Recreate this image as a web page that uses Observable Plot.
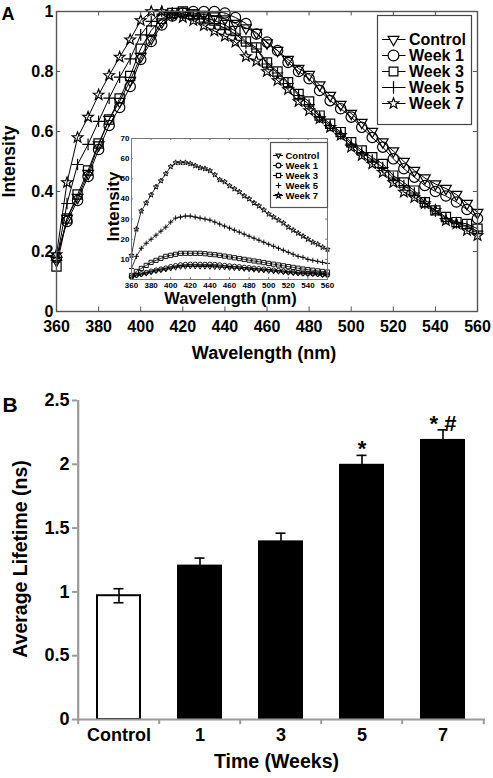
<!DOCTYPE html>
<html><head><meta charset="utf-8">
<script src="https://cdn.jsdelivr.net/npm/d3@7"></script>
<script src="https://cdn.jsdelivr.net/npm/@observablehq/plot@0.6"></script>
<style>
body{margin:0;background:#fff;}
#wrap{position:relative;width:493px;height:778px;overflow:hidden;background:#fff;}
</style></head><body><div id="wrap"></div>
<script>
// ---------------- DATA ----------------
const wavelengths = [360,365,370,375,380,385,390,395,400,405,410,415,420,425,430,435,440,445,450,455,460,465,470,475,480,485,490,495,500,505,510,515,520,525,530,535,540,545,550,555,560];
const seriesNames = ["Control","Week 1","Week 3","Week 5","Week 7"];

// Normalized intensity (panel A main)
const normControl = [0.17,0.31,0.38,0.46,0.555,0.64,0.70,0.77,0.85,0.91,0.965,0.99,1.0,0.995,0.99,0.985,0.975,0.96,0.945,0.93,0.895,0.87,0.84,0.81,0.79,0.755,0.72,0.69,0.66,0.63,0.60,0.565,0.535,0.50,0.47,0.445,0.425,0.41,0.39,0.36,0.33];
const normWeek1 = [0.18,0.30,0.37,0.45,0.54,0.62,0.68,0.75,0.84,0.90,0.955,0.985,0.995,1.0,1.0,1.0,0.995,0.98,0.96,0.925,0.898,0.87,0.83,0.80,0.776,0.737,0.703,0.676,0.648,0.614,0.58,0.548,0.509,0.476,0.448,0.42,0.40,0.385,0.365,0.34,0.31];
const normWeek3 = [0.15,0.31,0.39,0.47,0.56,0.64,0.71,0.785,0.876,0.937,0.976,0.995,1.0,0.99,0.98,0.97,0.955,0.935,0.90,0.88,0.83,0.80,0.764,0.725,0.70,0.653,0.626,0.598,0.564,0.537,0.514,0.492,0.453,0.43,0.403,0.364,0.337,0.315,0.298,0.292,0.276];
const normWeek5 = [0.17,0.36,0.49,0.557,0.634,0.711,0.781,0.842,0.922,0.967,1.0,0.995,0.99,0.985,0.975,0.96,0.945,0.925,0.895,0.875,0.825,0.795,0.76,0.72,0.69,0.648,0.62,0.592,0.558,0.53,0.505,0.48,0.445,0.42,0.395,0.36,0.335,0.31,0.295,0.285,0.268];
const normWeek7 = [0.19,0.43,0.58,0.648,0.722,0.787,0.848,0.906,0.97,1.0,1.0,0.99,0.98,0.97,0.953,0.935,0.918,0.898,0.85,0.835,0.80,0.77,0.74,0.70,0.67,0.643,0.614,0.587,0.548,0.52,0.492,0.464,0.43,0.398,0.38,0.36,0.337,0.303,0.292,0.27,0.253];

// Raw intensity (inset)
const rawControl = [1.1,2.0,2.5,3.0,3.6,4.2,4.6,5.0,5.5,5.9,6.3,6.4,6.5,6.5,6.4,6.4,6.3,6.2,6.1,6.0,5.8,5.6,5.5,5.3,5.1,4.9,4.6,4.5,4.3,4.1,3.9,3.6,3.4,3.2,3.0,2.9,2.7,2.7,2.5,2.3,2.1];
const rawWeek1 = [1.2,2.2,2.8,3.4,4.1,4.6,5.1,5.6,6.3,6.8,7.2,7.4,7.5,7.5,7.5,7.5,7.5,7.4,7.2,6.9,6.7,6.5,6.3,6.0,5.8,5.5,5.3,5.1,4.9,4.6,4.4,4.1,3.8,3.6,3.4,3.1,3.0,2.9,2.8,2.5,2.3];
const rawWeek3 = [2.0,4.0,5.5,7.0,8.5,9.5,10.5,11.5,12.0,12.5,13.0,13.0,13.0,13.0,13.0,12.8,12.5,12.3,12.0,11.6,11.2,10.8,10.4,10.0,9.6,9.2,8.8,8.4,8.0,7.6,7.2,6.8,6.4,6.0,5.6,5.2,4.9,4.6,4.3,4.0,3.7];
const rawWeek5 = [5.5,11.5,15.5,18,20,22,24,26,28.5,30.5,31,31.5,31.5,31,30.5,30,29.5,28.5,27.5,26.5,25.5,24.5,23.5,22.5,21.5,20.5,19.5,18.5,17.5,16.5,15.5,14.5,13.5,12.5,11.5,11,10,9.5,9,8.5,8];
const rawWeek7 = [12,25,34,38,42,46,49,52.5,56,58,58,58,57.5,56.5,55.5,55,54,52,49.5,48.5,46.5,45,43.5,41.5,40,38,36.5,34.5,32.5,31,29.5,28,26,24.5,23,21.5,20,18.5,17.5,16,15];

const xTicksA = [360,380,400,420,440,460,480,500,520,540,560];
const yTicksA = [0,0.2,0.4,0.6,0.8,1];
const yTicksInset = [10,20,30,40,50,60,70];

// Panel B
const categories = ["Control","1","3","5","7"];
const lifetimes = [0.97,1.21,1.40,2.00,2.195];
const lifetimeErr = [0.055,0.055,0.06,0.07,0.075];
const significance = ["","","","*","* #"];
const yTicksB = [0,0.5,1,1.5,2,2.5];

// ---------------- SYMBOLS ----------------
const triangleDown = {draw(c, size){const R = Math.sqrt(size/Math.PI); const s = R*Math.sqrt(3)/2; c.moveTo(0,R); c.lineTo(-s,-R/2); c.lineTo(s,-R/2); c.closePath();}};
const circleSym = {draw(c, size){const R = Math.sqrt(size/Math.PI); c.moveTo(R,0); c.arc(0,0,R,0,2*Math.PI);}};
const squareSym = {draw(c, size){const R = Math.sqrt(size/Math.PI); c.rect(-R,-R,2*R,2*R);}};
const plusSym = {draw(c, size){const R = Math.sqrt(size/Math.PI); c.moveTo(-R,0); c.lineTo(R,0); c.moveTo(0,-R); c.lineTo(0,R);}};
const starSym = {draw(c, size){const R = Math.sqrt(size/Math.PI); const r = R*0.42; for(let i=0;i<10;i++){const a = -Math.PI/2 + i*Math.PI/5; const rr = i%2 ? r : R; const x = rr*Math.cos(a), y = rr*Math.sin(a); if(i===0) c.moveTo(x,y); else c.lineTo(x,y);} c.closePath();}};
const symbols = [triangleDown, circleSym, squareSym, plusSym, starSym];
const mainR = [6.2, 5.2, 4.6, 5.8, 5.6];
const insetR = [2.6, 2.3, 2.1, 2.6, 2.8];
const legendR = [6.2, 5.4, 4.4, 6.2, 5.6];

const normSeries = [normControl, normWeek1, normWeek3, normWeek5, normWeek7];
const rawSeries = [rawControl, rawWeek1, rawWeek3, rawWeek5, rawWeek7];

const FONT = "'Liberation Sans', Arial, Helvetica, sans-serif";
const wrap = document.getElementById("wrap");
function place(svg, left, top){svg.style.position="absolute"; svg.style.left=left+"px"; svg.style.top=top+"px"; svg.style.maxWidth="none"; wrap.appendChild(svg);}
const baseStyle = (fs) => ({fontFamily: FONT, fontWeight: "bold", fontSize: fs, background: "transparent", overflow: "visible"});
const centered = {textAnchor: "middle", lineAnchor: "middle"};

// ---------------- PANEL A MAIN ----------------
const mainMarks = [];
seriesNames.forEach((name, k) => {
  const rows = wavelengths.map((w, i) => ({w, v: normSeries[k][i]}));
  mainMarks.push(Plot.line(rows, {x: "w", y: "v", stroke: "black", strokeWidth: 1}));
  mainMarks.push(Plot.dot(rows, {x: "w", y: "v", symbol: symbols[k], r: mainR[k], stroke: "black", strokeWidth: 1.2, fill: "none"}));
});
const mainPlot = Plot.plot({
  width: 493, height: 372, marginLeft: 56, marginRight: 16, marginTop: 11, marginBottom: 61,
  x: {domain: [360, 560], label: null},
  y: {domain: [0, 1], label: null},
  style: baseStyle("16px"),
  marks: [
    ...mainMarks,
    Plot.ruleX(xTicksA, {x: d => d, y1: 0, y2: 0.015, stroke: "#555"}),
    Plot.ruleX(xTicksA, {x: d => d, y1: 1, y2: 0.985, stroke: "#555"}),
    Plot.ruleY(yTicksA, {y: d => d, x1: 360, x2: 362, stroke: "#555"}),
    Plot.ruleY(yTicksA, {y: d => d, x1: 560, x2: 558, stroke: "#555"}),
    Plot.frame({stroke: "#555", strokeWidth: 1.4}),
    Plot.axisX({ticks: xTicksA, tickSize: 0, tickPadding: 9, label: null, tickFormat: d => String(d)}),
    Plot.axisY({ticks: yTicksA, tickSize: 0, tickPadding: 3, label: null, tickFormat: d => String(d)}),
    Plot.text(["Wavelength (nm)"], {text: d => d, frameAnchor: "bottom", ...centered, dx: -3, dy: 42, fontSize: 18}),
    Plot.text(["Intensity"], {text: d => d, frameAnchor: "left", ...centered, rotate: -90, dx: -47, fontSize: 17.5}),
    Plot.text(["A"], {text: d => d, frameAnchor: "top-left", textAnchor: "start", lineAnchor: "middle", dx: -55, dy: 3, fontSize: 18})
  ]
});
place(mainPlot, 0, 0);

// ---------------- INSET ----------------
const insetMarks = [];
seriesNames.forEach((name, k) => {
  const rows = wavelengths.map((w, i) => ({w, v: rawSeries[k][i]}));
  insetMarks.push(Plot.line(rows, {x: "w", y: "v", stroke: "black", strokeWidth: 0.8}));
  insetMarks.push(Plot.dot(rows, {x: "w", y: "v", symbol: symbols[k], r: insetR[k], stroke: "black", strokeWidth: 0.9, fill: "none"}));
});
const insetPlot = Plot.plot({
  width: 235, height: 174, marginLeft: 31, marginRight: 8, marginTop: 6, marginBottom: 27,
  x: {domain: [360, 560], label: null},
  y: {domain: [0, 70], label: null},
  style: baseStyle("8px"),
  marks: [
    ...insetMarks,
    Plot.ruleX(xTicksA, {x: d => d, y1: 0, y2: 1, stroke: "#777"}),
    Plot.ruleX(xTicksA, {x: d => d, y1: 70, y2: 69, stroke: "#777"}),
    Plot.ruleY(yTicksInset, {y: d => d, x1: 360, x2: 362, stroke: "#777"}),
    Plot.ruleY(yTicksInset, {y: d => d, x1: 560, x2: 558, stroke: "#777"}),
    Plot.frame({stroke: "#777", strokeWidth: 1}),
    Plot.axisX({ticks: xTicksA, tickSize: 0, tickPadding: 3, label: null, tickFormat: d => String(d)}),
    Plot.axisY({ticks: yTicksInset, tickSize: 0, tickPadding: 2, label: null, tickFormat: d => String(d)}),
    Plot.text(["Wavelength (nm)"], {text: d => d, frameAnchor: "bottom", ...centered, dy: 19.5, dx: 1, fontSize: 16.5}),
    Plot.text(["Intensity"], {text: d => d, frameAnchor: "left", ...centered, rotate: -90, dx: -18, dy: -2.5, fontSize: 17})
  ]
});
place(insetPlot, 100, 132);

// ---------------- LEGENDS ----------------
function legend(w, h, y0, y1, lineX, markX, textX, rs, fs, stroke, skipLine){
  const marks = [Plot.frame({stroke, strokeWidth: 1.2})];
  seriesNames.forEach((name, k) => {
    if (!skipLine.includes(name)) marks.push(Plot.ruleY([name], {y: d => d, x1: lineX[0], x2: lineX[1], stroke: "black", strokeWidth: 1}));
    marks.push(Plot.dot([name], {y: d => d, x: markX, symbol: symbols[k], r: rs[k], stroke: "black", strokeWidth: 1.2, fill: "white"}));
  });
  marks.push(Plot.text(seriesNames, {y: d => d, x: textX, text: d => d, textAnchor: "start", lineAnchor: "middle", fontSize: fs}));
  return Plot.plot({
    width: w, height: h, margin: 0,
    x: {domain: [0, w], range: [0, w], axis: null},
    y: {type: "point", domain: seriesNames, range: [y0, y1], axis: null},
    style: {...baseStyle(fs + "px"), background: "white"},
    marks
  });
}
place(legend(94, 109, 13.3, 97.7, [5, 28.5], 16, 31.5, legendR, 16, "#444", []), 377, 15);
place(legend(57, 65, 7.3, 58, [3, 13], 8, 15, [2.6, 2.4, 2.1, 2.8, 2.8], 9.5, "#555", ["Week 5"]), 270, 142);

// ---------------- PANEL B ----------------
const bRows = categories.map((c, i) => ({cat: c, v: lifetimes[i], e: lifetimeErr[i], sig: significance[i]}));
const bLeft = 77, bRight = 8, bWidth = 493;
const step = (bWidth - bLeft - bRight) / categories.length;
const gray = "#9a9a9a";
const bPlot = Plot.plot({
  width: bWidth, height: 398, marginLeft: bLeft, marginRight: bRight, marginTop: 20, marginBottom: 59,
  x: {domain: categories, paddingInner: 0.44, paddingOuter: 0.22, label: null},
  y: {domain: [0, 2.5], label: null},
  style: baseStyle("18px"),
  marks: [
    Plot.barY(bRows.filter(d => d.cat === "Control"), {x: "cat", y: "v", fill: "white", stroke: "black", strokeWidth: 2, insetLeft: 1, insetRight: 1}),
    Plot.barY(bRows.filter(d => d.cat !== "Control"), {x: "cat", y: "v", fill: "black"}),
    Plot.ruleX(bRows, {x: "cat", y1: d => d.v - d.e, y2: d => d.v + d.e, stroke: "black", strokeWidth: 1.6}),
    Plot.tickY(bRows, {x: "cat", y: d => d.v + d.e, insetLeft: 17.5, insetRight: 17.5, stroke: "black", strokeWidth: 1.6}),
    Plot.tickY(bRows, {x: "cat", y: d => d.v - d.e, insetLeft: 17.5, insetRight: 17.5, stroke: "black", strokeWidth: 1.6}),
    Plot.ruleY([0], {stroke: gray, strokeWidth: 2.2}),
    Plot.ruleX([categories[0]], {x: d => d, dx: -step / 2, y1: 0, y2: 2.5, stroke: gray, strokeWidth: 2.2}),
    Plot.ruleX(categories, {x: d => d, dx: -step / 2, y1: 0, y2: -0.04, stroke: gray, strokeWidth: 2}),
    Plot.ruleX([categories[categories.length - 1]], {x: d => d, dx: step / 2, y1: 0, y2: -0.04, stroke: gray, strokeWidth: 2}),
    Plot.axisY({ticks: yTicksB, tickSize: 5, tickPadding: 3, stroke: gray, strokeWidth: 2, label: null, tickFormat: d => String(d)}),
    Plot.axisX({tickSize: 0, tickPadding: 9, label: null}),
    Plot.text(bRows.filter(d => d.sig), {x: "cat", y: d => d.v + d.e, text: "sig", dy: -6, fontSize: 22}),
    Plot.text(["Average Lifetime (ns)"], {text: d => d, frameAnchor: "left", ...centered, rotate: -90, dx: -57, dy: -1, fontSize: 19.5}),
    Plot.text(["Time (Weeks)"], {text: d => d, frameAnchor: "bottom", ...centered, dx: -5, dy: 42, fontSize: 19.5}),
    Plot.text(["B"], {text: d => d, frameAnchor: "top-left", textAnchor: "start", lineAnchor: "middle", dx: -75, dy: 5, fontSize: 21})
  ]
});
place(bPlot, 0, 380);
</script></body></html>
